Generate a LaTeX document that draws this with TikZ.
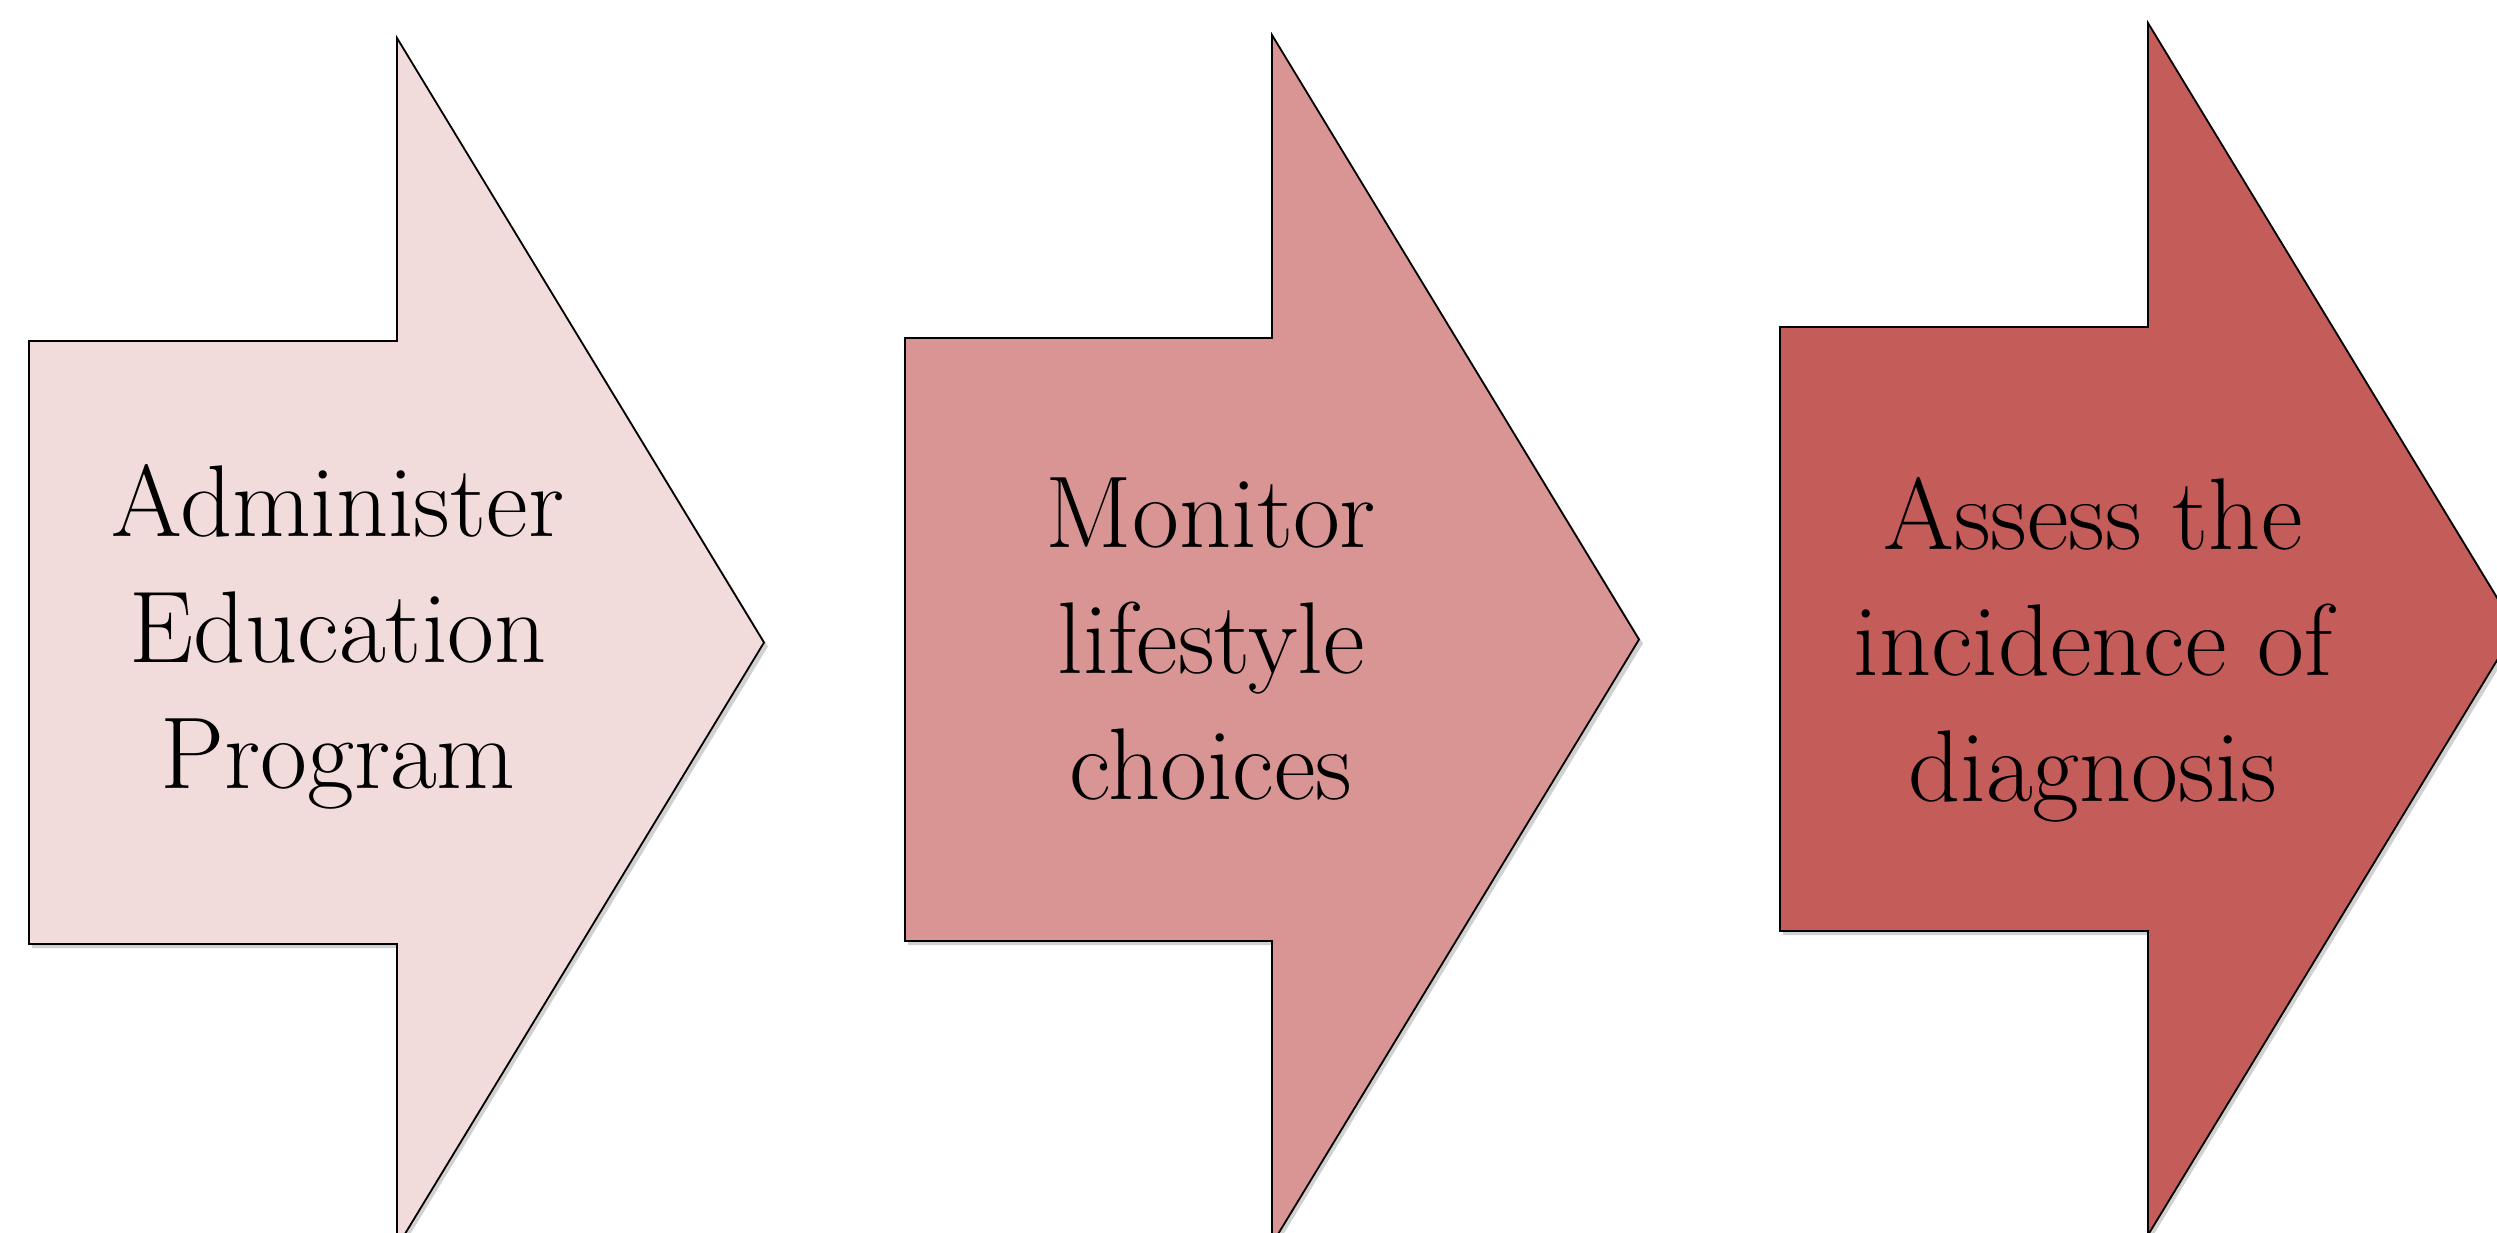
\documentclass[tikz,border=0pt]{standalone}
\usepackage{fontspec}
\begin{document}
\begin{tikzpicture}[x=1pt,y=-1pt,
  arrowshape/.style={draw=black, line width=1.8pt, line join=miter},
  shadowshape/.style={fill=black, opacity=0.18},
  lbl/.style={inner sep=0pt, align=center, font=\fontsize{102}{126}\selectfont, text=black, anchor=base}]
\definecolor{pinkA}{HTML}{F2DCDB}
\definecolor{pinkB}{HTML}{D99594}
\definecolor{pinkC}{HTML}{C45D5A}
\useasboundingbox (0,0) rectangle (2497,1232);
\clip (0,0) rectangle (2497,1232);
% arrow 1
\fill[shadowshape] (32,345) -- (400,345) -- (400,42) -- (768,646.5) -- (400,1251) -- (400,948) -- (32,948) -- cycle;
\draw[arrowshape, fill=pinkA] (29,341) -- (397,341) -- (397,38) -- (764,642.5) -- (397,1247) -- (397,944) -- (29,944) -- cycle;
\coordinate (a1) at (29,341);
% arrow 2
\fill[shadowshape] (908,342) -- (1275,342) -- (1275,39) -- (1643,643.5) -- (1275,1248) -- (1275,945) -- (908,945) -- cycle;
\draw[arrowshape, fill=pinkB] (905,338) -- (1272,338) -- (1272,35) -- (1639,639.5) -- (1272,1244) -- (1272,941) -- (905,941) -- cycle;
\coordinate (a2) at (905,338);
% arrow 3
\fill[shadowshape] (1783,331) -- (2151,331) -- (2151,27) -- (2520,633) -- (2151,1239) -- (2151,935) -- (1783,935) -- cycle;
\draw[arrowshape, fill=pinkC] (1780,327) -- (2148,327) -- (2148,23) -- (2516,629) -- (2148,1235) -- (2148,931) -- (1780,931) -- cycle;
\coordinate (a3) at (1780,327);
% labels (base anchor = baseline of last line)
\node[lbl] (t1) at (338,788) {Administer\\Education\\Program};
\node[lbl] (t2) at (1211,799) {Monitor\\lifestyle\\choices};
\node[lbl] (t3) at (2093,801) {Assess the\\incidence of\\diagnosis};
\end{tikzpicture}
\end{document}
